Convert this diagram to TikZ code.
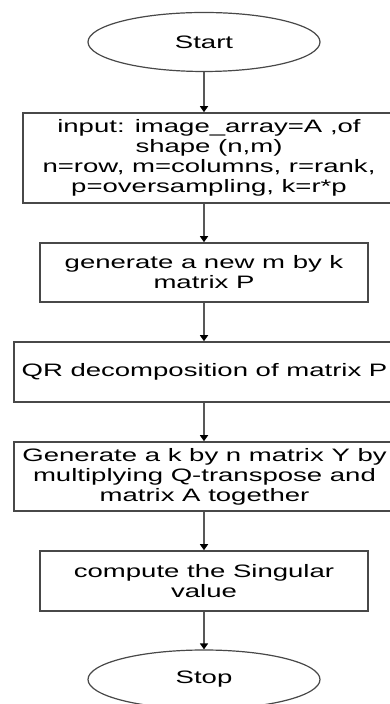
\documentclass[tikz,border=0pt]{standalone}
\usepackage{fontspec}
\setmainfont{Liberation Sans}[FakeStretch=1.53]
\usetikzlibrary{shapes.geometric,arrows.meta}
\definecolor{edgegray}{HTML}{484848}
\definecolor{linegray}{HTML}{585858}
\tikzset{
  x=1pt, y=1pt,
  every node/.style={font=\fontsize{18}{20}\selectfont, text=black, align=center},
  term/.style={ellipse, draw=edgegray, line width=1.2pt, minimum width=232pt, minimum height=59pt, inner sep=0pt},
  procbox/.style={rectangle, draw=edgegray, line width=1.6pt, inner sep=0pt},
  flow/.style={draw=linegray, line width=1.8pt, -{Triangle[width=8pt,length=6pt,color=black]}}
}
\begin{document}
\begin{tikzpicture}
\useasboundingbox (0,0) rectangle (390,704);
\fill[white] (0,0) rectangle (390,704);
\clip (0,0) rectangle (390,704);
\node[term] (start) at (204,662) {Start};
\node[procbox, minimum width=372pt, minimum height=90pt] (input) at (209,546)
  {input: image\_array=A ,of\\shape (n,m)\\n=row, m=columns, r=rank,\\p=oversampling, k=r*p};
\node[procbox, minimum width=328pt, minimum height=59pt] (gen) at (204,431.5)
  {generate a new m by k\\matrix P};
\node[procbox, minimum width=381pt, minimum height=60pt] (qr) at (204.5,332)
  {\raisebox{4pt}{QR decomposition of matrix P}};
\node[procbox, minimum width=381pt, minimum height=69pt] (mult) at (204.5,227.5)
  {Generate a k by n matrix Y by\\multiplying Q-transpose and\\matrix A together};
\node[procbox, minimum width=328pt, minimum height=60pt] (svd) at (204,123)
  {compute the Singular\\value};
\node[term] (stop) at (204,24.5) {Stop};
\draw[flow] (start.south) -- (start.south |- input.north);
\draw[flow] (start.south |- input.south) -- (start.south |- gen.north);
\draw[flow] (gen.south) -- (gen.south |- qr.north);
\draw[flow] (gen.south |- qr.south) -- (gen.south |- mult.north);
\draw[flow] (gen.south |- mult.south) -- (svd.north);
\draw[flow] (svd.south) -- (stop.north);
\end{tikzpicture}
\end{document}
